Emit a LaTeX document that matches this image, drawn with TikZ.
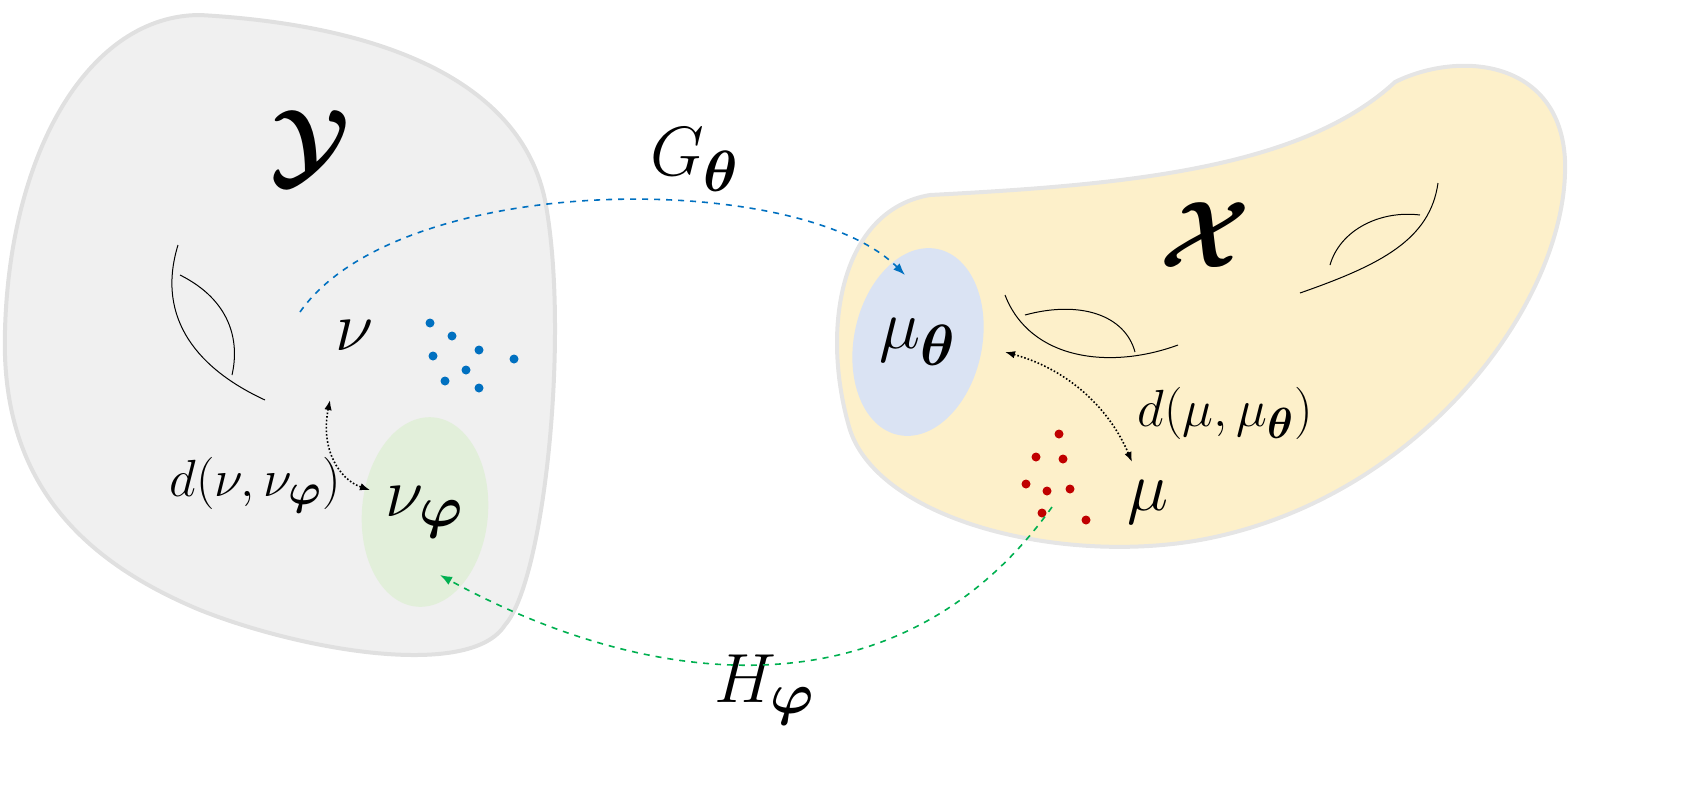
\documentclass[tikz,border=0pt]{standalone}
\usepackage{amsmath,amssymb,bm}
\usetikzlibrary{arrows.meta,shapes.geometric}
\definecolor{spaceY}{HTML}{F0F0F0}
\definecolor{spaceX}{HTML}{FDF0CA}
\definecolor{muell}{HTML}{DAE3F3}
\definecolor{nuell}{HTML}{E2EFDA}
\definecolor{bluedot}{HTML}{0070C0}
\definecolor{reddot}{HTML}{C00000}
\definecolor{greenarr}{HTML}{00B050}
\newcommand{\bigsym}[1]{\scalebox{1.4}{\Huge$#1$}}
\newcommand{\midsym}[1]{\scalebox{1.05}{\Huge$#1$}}
\tikzset{
    x=0.5pt, y=-0.5pt,
    dot/.style={circle, fill=#1, inner sep=0pt, minimum size=4.5pt},
    arc/.style={line width=0.5pt},
    dist/.style={densely dotted, thick, {Latex[length=5pt]}-{Latex[length=5pt]}},
    map/.style={dashed, thick, -{Latex[length=6pt]}},
}
\begin{document}
\begin{tikzpicture}
\path[use as bounding box] (0,0) rectangle (1708,810);
% spaces
\draw[fill=spaceY, line width=2pt, draw=black!12]
    (200,15) .. controls (380,25) and (520,80) .. (545,200)
    .. controls (570,330) and (545,580) .. (505,625)
    .. controls (470,680) and (300,650) .. (200,610)
    .. controls (80,560) and (0,480) .. (5,330)
    .. controls (10,150) and (90,15) .. (200,15) -- cycle;
\draw[fill=spaceX, line width=2pt, draw=black!10]
    (1395,82) .. controls (1460,50) and (1560,60) .. (1565,160)
    .. controls (1570,300) and (1420,500) .. (1200,540)
    .. controls (1060,565) and (880,520) .. (850,430)
    .. controls (820,330) and (840,210) .. (930,195)
    .. controls (1120,185) and (1300,170) .. (1395,82) -- cycle;
% ellipses
\node[fill=muell, ellipse, inner sep=0pt, minimum width=64pt, minimum height=95pt, rotate=-12] (muth) at (918,342) {};
\node[fill=nuell, ellipse, inner sep=0pt, minimum width=63pt, minimum height=95pt, rotate=-5] (nuph) at (425,512) {};
% arcs
\draw[arc] (178,245) .. controls (155,320) and (200,370) .. (265,400);
\draw[arc] (180,275) .. controls (230,300) and (240,340) .. (232,375);
\draw[arc] (1005,295) .. controls (1030,360) and (1110,370) .. (1178,345);
\draw[arc] (1025,315) .. controls (1080,300) and (1125,315) .. (1135,352);
\draw[arc] (1438,183) .. controls (1430,240) and (1380,265) .. (1300,293);
\draw[arc] (1330,265) .. controls (1340,230) and (1380,210) .. (1420,215);
% samples
\foreach \px/\py in {430/323,452/336,433/356,479/350,514/359,466/370,445/381,479/388}
    \node[dot=bluedot] at (\px,\py) {};
\foreach \px/\py in {1059/434,1036/457,1063/459,1026/484,1047/491,1070/489,1042/513,1086/520}
    \node[dot=reddot] at (\px,\py) {};
% labels
\node (Y) at (310,148) {\scalebox{1.9}{\Huge$\bm{\mathcal{Y}}$}};
\node (X) at (1205,235) {\scalebox{1.9}{\Huge$\bm{\mathcal{X}}$}};
\node (nu) at (355,335) {\bigsym{\nu}};
\node at (nuph) {\bigsym{\nu_{\bm{\varphi}}}};
\node at (muth) {\bigsym{\mu_{\bm{\theta}}}};
\node (mu) at (1148,502) {\bigsym{\mu}};
\node (G) at (695,160) {\bigsym{G_{\bm{\theta}}}};
\node (H) at (765,690) {\bigsym{H_{\bm{\varphi}}}};
\node (dY) at (255,485) {\midsym{d(\nu,\nu_{\bm{\varphi}})}};
\node (dX) at (1225,413) {\midsym{d(\mu,\mu_{\bm{\theta}})}};
% connectors
\coordinate (gs) at (300,312); \coordinate (ge) at (905,275);
\coordinate (hs) at (1052,507); \coordinate (he) at (440,575);
\coordinate (ds) at (330,400); \coordinate (de) at (370,490);
\coordinate (es) at (1005,352); \coordinate (ee) at (1132,462);
\draw[map, bluedot] (gs) .. controls (400,170) and (800,170) .. (ge);
\draw[map, greenarr] (hs) .. controls (900,720) and (650,690) .. (he);
\draw[dist] (ds) .. controls (320,450) and (340,480) .. (de);
\draw[dist] (es) .. controls (1070,370) and (1110,410) .. (ee);
\end{tikzpicture}
\end{document}
